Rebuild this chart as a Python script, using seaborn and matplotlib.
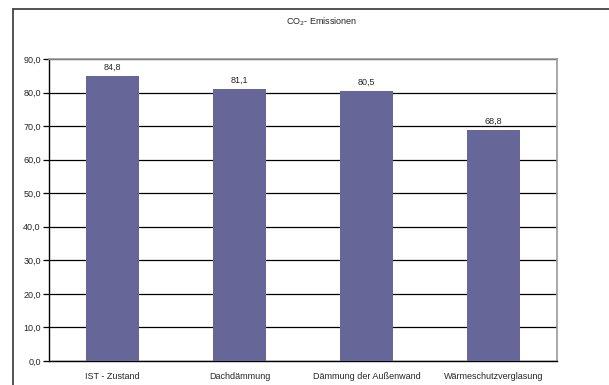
import matplotlib
matplotlib.use("Agg")
import matplotlib.pyplot as plt
from matplotlib.lines import Line2D
from matplotlib.ticker import MultipleLocator, FuncFormatter
import seaborn as sns
import pandas as pd

categories = ["IST - Zustand", "Dachdämmung", "Dämmung der Außenwand", "Wärmeschutzverglasung"]
emissions = [84.8, 81.1, 80.5, 68.8]

sns.set_style("white")
plt.rcParams["font.family"] = ["Liberation Sans", "DejaVu Sans"]

df = pd.DataFrame({"Maßnahme": categories, "CO2": emissions})

fig = plt.figure(figsize=(6.09, 3.85), dpi=100)
ax = fig.add_axes([49 / 609, 1 - 361 / 385, (557 - 49) / 609, (361 - 59) / 385])

sns.barplot(data=df, x="Maßnahme", y="CO2", color="#666699", saturation=1,
            width=0.41, linewidth=0, ax=ax, zorder=3)

ax.set_ylim(0, 90)
ax.set_xlim(-0.5, len(categories) - 0.5)
ax.yaxis.set_major_locator(MultipleLocator(10))
ax.yaxis.set_major_formatter(FuncFormatter(lambda v, _: f"{v:.1f}".replace(".", ",")))
ax.grid(axis="y", color="black", linewidth=0.9, zorder=0)
ax.set_axisbelow(True)

ax.set_xlabel("")
ax.set_ylabel("")

# category labels centred under bars, tick marks between categories
ax.set_xticks(range(len(categories)))
ax.set_xticklabels(categories, fontsize=6.5)
ax.tick_params(axis="x", length=0, pad=8)
ax.set_xticks([i - 0.5 for i in range(len(categories) + 1)], minor=True)
ax.tick_params(axis="x", which="minor", length=3, width=0.9, color="black", direction="out")
ax.tick_params(axis="y", labelsize=6.5, length=4, width=0.9, color="black", direction="out", pad=2, left=True)

for side in ("left", "bottom"):
    ax.spines[side].set_color("black")
    ax.spines[side].set_linewidth(1.0)
for side in ("top", "right"):
    ax.spines[side].set_visible(True)
    ax.spines[side].set_color("#999999")
    ax.spines[side].set_linewidth(1.2)

for container in ax.containers:
    ax.bar_label(container, labels=[f"{v:.1f}".replace(".", ",") for v in emissions],
                 fontsize=6.5, padding=3)

fig.text(322 / 609, 1 - 22 / 385, "CO$_2$- Emissionen", fontsize=6.5, ha="center", va="center")

# outer chart frame
fig.add_artist(Line2D([13 / 609, 13 / 609], [0, 1 - 9 / 385], transform=fig.transFigure,
                      color="#444444", linewidth=1.3))
fig.add_artist(Line2D([13 / 609, 1], [1 - 9 / 385, 1 - 9 / 385], transform=fig.transFigure,
                      color="#444444", linewidth=1.3))

fig.savefig("out.png", dpi=100, facecolor="white")
